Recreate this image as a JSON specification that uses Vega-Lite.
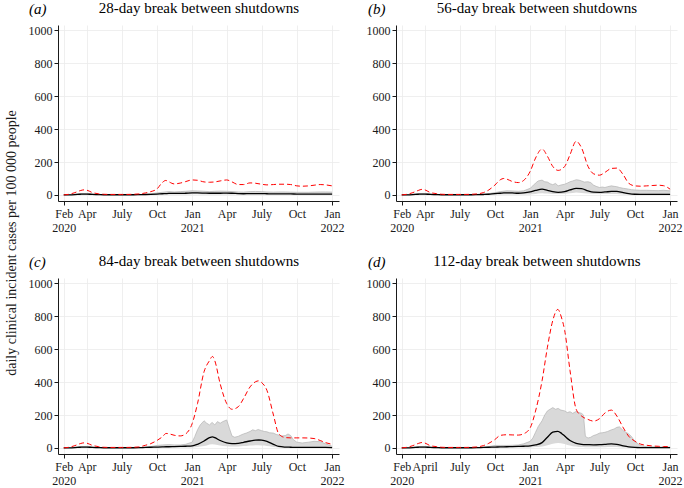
{
"$schema": "https://vega.github.io/schema/vega-lite/v6.json",
"background": "white",
"padding": {"left": 4, "top": 0, "right": 0, "bottom": 0},
"config": {
  "font": "Liberation Serif",
  "view": {"stroke": null},
  "axis": {"labelFont": "Liberation Serif", "labelFontSize": 12, "labelColor": "#1a1a1a", "domainColor": "#1a1a1a", "tickColor": "#1a1a1a", "gridColor": "#ebebeb", "gridWidth": 0.8, "domainWidth": 1, "tickWidth": 1, "tickSize": 4, "titleFont": "Liberation Serif", "titleFontSize": 15, "titleFontWeight": "normal", "titleColor": "#000000"}
},
"title": {"text": "daily clinical incident cases per 100 000 people", "orient": "left", "anchor": "middle", "font": "Liberation Serif", "fontSize": 14, "fontWeight": "normal", "color": "#1a1a1a", "offset": 9},
"columns": 2,
"spacing": {"row": 20, "column": 21},
"datasets": {
"lines": [
{"panel":"a","date":"2020-02-01","upper":0,"median":0},{"panel":"a","date":"2020-02-15","upper":4,"median":0.5},{"panel":"a","date":"2020-03-01","upper":14,"median":2},{"panel":"a","date":"2020-03-15","upper":26,"median":4},{"panel":"a","date":"2020-03-25","upper":31,"median":5},{"panel":"a","date":"2020-04-01","upper":29,"median":5},{"panel":"a","date":"2020-04-15","upper":15,"median":3},{"panel":"a","date":"2020-05-01","upper":7,"median":2},{"panel":"a","date":"2020-05-15","upper":4,"median":1},{"panel":"a","date":"2020-06-01","upper":3,"median":1},{"panel":"a","date":"2020-06-15","upper":3,"median":1},{"panel":"a","date":"2020-07-01","upper":3,"median":1},{"panel":"a","date":"2020-07-15","upper":3,"median":1},{"panel":"a","date":"2020-08-01","upper":4,"median":1},{"panel":"a","date":"2020-08-15","upper":6,"median":1.5},
{"panel":"a","date":"2020-09-01","upper":12,"median":2.5},{"panel":"a","date":"2020-09-15","upper":20,"median":3.5},{"panel":"a","date":"2020-10-01","upper":36,"median":5},{"panel":"a","date":"2020-10-15","upper":75,"median":7},{"panel":"a","date":"2020-10-24","upper":88,"median":8},{"panel":"a","date":"2020-11-01","upper":80,"median":9},{"panel":"a","date":"2020-11-15","upper":67,"median":9},{"panel":"a","date":"2020-12-01","upper":72,"median":9},{"panel":"a","date":"2020-12-15","upper":81,"median":10},{"panel":"a","date":"2021-01-01","upper":91,"median":12},{"panel":"a","date":"2021-01-15","upper":89,"median":12},{"panel":"a","date":"2021-02-01","upper":79,"median":11},{"panel":"a","date":"2021-02-15","upper":77,"median":10},{"panel":"a","date":"2021-03-01","upper":79,"median":10},{"panel":"a","date":"2021-03-15","upper":85,"median":10},{"panel":"a","date":"2021-04-01","upper":91,"median":11},{"panel":"a","date":"2021-04-15","upper":79,"median":10},{"panel":"a","date":"2021-05-01","upper":63,"median":8},{"panel":"a","date":"2021-05-15","upper":63,"median":7},{"panel":"a","date":"2021-06-01","upper":73,"median":8},{"panel":"a","date":"2021-06-15","upper":71,"median":8},{"panel":"a","date":"2021-07-01","upper":65,"median":8},{"panel":"a","date":"2021-07-15","upper":61,"median":7},{"panel":"a","date":"2021-08-01","upper":63,"median":6},{"panel":"a","date":"2021-08-15","upper":65,"median":6},{"panel":"a","date":"2021-09-01","upper":65,"median":6},{"panel":"a","date":"2021-09-15","upper":63,"median":6},{"panel":"a","date":"2021-10-01","upper":55,"median":5},{"panel":"a","date":"2021-10-15","upper":53,"median":5},{"panel":"a","date":"2021-11-01","upper":55,"median":5},{"panel":"a","date":"2021-11-15","upper":59,"median":5},{"panel":"a","date":"2021-12-01","upper":63,"median":5},{"panel":"a","date":"2021-12-15","upper":61,"median":5},{"panel":"a","date":"2022-01-01","upper":55,"median":5},

{"panel":"b","date":"2020-02-01","upper":0,"median":0},{"panel":"b","date":"2020-02-15","upper":4,"median":0.5},{"panel":"b","date":"2020-03-01","upper":14,"median":2},{"panel":"b","date":"2020-03-15","upper":27,"median":4},{"panel":"b","date":"2020-03-25","upper":34,"median":5},{"panel":"b","date":"2020-04-01","upper":31,"median":5},{"panel":"b","date":"2020-04-15","upper":15,"median":3},{"panel":"b","date":"2020-05-01","upper":8,"median":2},{"panel":"b","date":"2020-05-15","upper":4,"median":1},{"panel":"b","date":"2020-06-01","upper":3,"median":1},{"panel":"b","date":"2020-06-15","upper":3,"median":1},{"panel":"b","date":"2020-07-01","upper":3,"median":1},{"panel":"b","date":"2020-07-15","upper":3,"median":1},{"panel":"b","date":"2020-08-01","upper":4,"median":1},{"panel":"b","date":"2020-08-15","upper":6,"median":1.5},
{"panel":"b","date":"2020-09-01","upper":14,"median":2.5},{"panel":"b","date":"2020-09-15","upper":30,"median":4},{"panel":"b","date":"2020-10-01","upper":60,"median":8},{"panel":"b","date":"2020-10-15","upper":92,"median":10},{"panel":"b","date":"2020-10-24","upper":100,"median":12},{"panel":"b","date":"2020-11-01","upper":96,"median":13},{"panel":"b","date":"2020-11-15","upper":82,"median":12},{"panel":"b","date":"2020-12-01","upper":75,"median":10},{"panel":"b","date":"2020-12-15","upper":88,"median":12},{"panel":"b","date":"2021-01-01","upper":143,"median":18},{"panel":"b","date":"2021-01-15","upper":224,"median":27},{"panel":"b","date":"2021-02-01","upper":279,"median":35},{"panel":"b","date":"2021-02-15","upper":235,"median":28},{"panel":"b","date":"2021-03-01","upper":173,"median":20},{"panel":"b","date":"2021-03-15","upper":149,"median":16},{"panel":"b","date":"2021-04-01","upper":173,"median":20},{"panel":"b","date":"2021-04-15","upper":245,"median":30},{"panel":"b","date":"2021-05-01","upper":326,"median":40},{"panel":"b","date":"2021-05-15","upper":286,"median":38},{"panel":"b","date":"2021-06-01","upper":173,"median":24},{"panel":"b","date":"2021-06-15","upper":129,"median":17},{"panel":"b","date":"2021-07-01","upper":120,"median":16},{"panel":"b","date":"2021-07-15","upper":137,"median":18},{"panel":"b","date":"2021-08-01","upper":161,"median":21},{"panel":"b","date":"2021-08-15","upper":163,"median":22},{"panel":"b","date":"2021-09-01","upper":122,"median":14},{"panel":"b","date":"2021-09-15","upper":71,"median":8},{"panel":"b","date":"2021-10-01","upper":55,"median":4},{"panel":"b","date":"2021-10-15","upper":53,"median":3},{"panel":"b","date":"2021-11-01","upper":55,"median":3},{"panel":"b","date":"2021-11-15","upper":57,"median":3},{"panel":"b","date":"2021-12-01","upper":59,"median":3},{"panel":"b","date":"2021-12-15","upper":56,"median":3},{"panel":"b","date":"2022-01-01","upper":35,"median":3},

{"panel":"c","date":"2020-02-01","upper":0,"median":0},{"panel":"c","date":"2020-02-15","upper":4,"median":0.5},{"panel":"c","date":"2020-03-01","upper":14,"median":2},{"panel":"c","date":"2020-03-15","upper":26,"median":4},{"panel":"c","date":"2020-03-25","upper":31,"median":5},{"panel":"c","date":"2020-04-01","upper":29,"median":5},{"panel":"c","date":"2020-04-15","upper":16,"median":3},{"panel":"c","date":"2020-05-01","upper":8,"median":2},{"panel":"c","date":"2020-05-15","upper":4,"median":1},{"panel":"c","date":"2020-06-01","upper":3,"median":1},{"panel":"c","date":"2020-06-15","upper":3,"median":1},{"panel":"c","date":"2020-07-01","upper":3,"median":1},{"panel":"c","date":"2020-07-15","upper":3,"median":1},{"panel":"c","date":"2020-08-01","upper":4,"median":1},{"panel":"c","date":"2020-08-15","upper":6,"median":1.5},
{"panel":"c","date":"2020-09-01","upper":16,"median":3},{"panel":"c","date":"2020-09-15","upper":26,"median":4},{"panel":"c","date":"2020-10-01","upper":45,"median":5},{"panel":"c","date":"2020-10-15","upper":67,"median":6},{"panel":"c","date":"2020-10-25","upper":88,"median":7},{"panel":"c","date":"2020-11-01","upper":86,"median":7},{"panel":"c","date":"2020-11-15","upper":77,"median":8},{"panel":"c","date":"2020-12-01","upper":73,"median":9},{"panel":"c","date":"2020-12-15","upper":85,"median":10},{"panel":"c","date":"2021-01-01","upper":148,"median":12},{"panel":"c","date":"2021-01-15","upper":270,"median":22},{"panel":"c","date":"2021-02-01","upper":463,"median":42},{"panel":"c","date":"2021-02-15","upper":530,"median":62},{"panel":"c","date":"2021-02-23","upper":556,"median":67},{"panel":"c","date":"2021-03-01","upper":530,"median":62},{"panel":"c","date":"2021-03-15","upper":390,"median":45},{"panel":"c","date":"2021-04-01","upper":270,"median":30},{"panel":"c","date":"2021-04-15","upper":235,"median":26},{"panel":"c","date":"2021-05-01","upper":250,"median":28},{"panel":"c","date":"2021-05-15","upper":300,"median":34},{"panel":"c","date":"2021-06-01","upper":371,"median":42},{"panel":"c","date":"2021-06-15","upper":402,"median":47},{"panel":"c","date":"2021-06-24","upper":408,"median":48},{"panel":"c","date":"2021-07-01","upper":398,"median":47},{"panel":"c","date":"2021-07-15","upper":350,"median":40},{"panel":"c","date":"2021-08-01","upper":200,"median":22},{"panel":"c","date":"2021-08-15","upper":85,"median":9},{"panel":"c","date":"2021-09-01","upper":63,"median":5},{"panel":"c","date":"2021-09-15","upper":61,"median":4},{"panel":"c","date":"2021-10-01","upper":61,"median":3},{"panel":"c","date":"2021-10-15","upper":61,"median":3},{"panel":"c","date":"2021-11-01","upper":60,"median":3},{"panel":"c","date":"2021-11-15","upper":57,"median":3},{"panel":"c","date":"2021-12-01","upper":45,"median":3},{"panel":"c","date":"2021-12-15","upper":32,"median":3},{"panel":"c","date":"2022-01-01","upper":22,"median":2},

{"panel":"d","date":"2020-02-01","upper":0,"median":0},{"panel":"d","date":"2020-02-15","upper":4,"median":0.5},{"panel":"d","date":"2020-03-01","upper":14,"median":2},{"panel":"d","date":"2020-03-15","upper":27,"median":4},{"panel":"d","date":"2020-03-25","upper":33,"median":5},{"panel":"d","date":"2020-04-01","upper":30,"median":5},{"panel":"d","date":"2020-04-15","upper":14,"median":3},{"panel":"d","date":"2020-05-01","upper":8,"median":2},{"panel":"d","date":"2020-05-15","upper":4,"median":1},{"panel":"d","date":"2020-06-01","upper":3,"median":1},{"panel":"d","date":"2020-06-15","upper":3,"median":1},{"panel":"d","date":"2020-07-01","upper":3,"median":1},{"panel":"d","date":"2020-07-15","upper":3,"median":1},{"panel":"d","date":"2020-08-01","upper":4,"median":1},{"panel":"d","date":"2020-08-15","upper":6,"median":1.5},
{"panel":"d","date":"2020-09-01","upper":14,"median":3},{"panel":"d","date":"2020-09-15","upper":28,"median":4},{"panel":"d","date":"2020-10-01","upper":51,"median":5},{"panel":"d","date":"2020-10-15","upper":76,"median":6},{"panel":"d","date":"2020-11-01","upper":80,"median":7},{"panel":"d","date":"2020-11-15","upper":79,"median":8},{"panel":"d","date":"2020-12-01","upper":78,"median":9},{"panel":"d","date":"2020-12-15","upper":86,"median":10},{"panel":"d","date":"2021-01-01","upper":122,"median":12},{"panel":"d","date":"2021-01-15","upper":224,"median":18},{"panel":"d","date":"2021-02-01","upper":408,"median":32},{"panel":"d","date":"2021-02-15","upper":612,"median":65},{"panel":"d","date":"2021-03-01","upper":775,"median":96},{"panel":"d","date":"2021-03-14","upper":842,"median":101},{"panel":"d","date":"2021-03-24","upper":790,"median":88},{"panel":"d","date":"2021-04-01","upper":714,"median":72},{"panel":"d","date":"2021-04-15","upper":469,"median":45},{"panel":"d","date":"2021-05-01","upper":235,"median":28},{"panel":"d","date":"2021-05-15","upper":194,"median":22},{"panel":"d","date":"2021-06-01","upper":173,"median":20},{"panel":"d","date":"2021-06-15","upper":163,"median":19},{"panel":"d","date":"2021-07-01","upper":178,"median":20},{"panel":"d","date":"2021-07-15","upper":212,"median":22},{"panel":"d","date":"2021-08-01","upper":230,"median":25},{"panel":"d","date":"2021-08-15","upper":194,"median":22},{"panel":"d","date":"2021-09-01","upper":122,"median":12},{"panel":"d","date":"2021-09-15","upper":71,"median":6},{"panel":"d","date":"2021-10-01","upper":41,"median":3},{"panel":"d","date":"2021-10-15","upper":24,"median":2},{"panel":"d","date":"2021-11-01","upper":16,"median":2},{"panel":"d","date":"2021-11-15","upper":12,"median":2},{"panel":"d","date":"2021-12-01","upper":10,"median":2},{"panel":"d","date":"2021-12-15","upper":8,"median":2},{"panel":"d","date":"2022-01-01","upper":8,"median":2}
],
"band": [
{"panel":"a","date":"2020-02-01","lo":0,"hi":0},{"panel":"a","date":"2020-02-15","lo":0,"hi":2},{"panel":"a","date":"2020-03-01","lo":0,"hi":5},{"panel":"a","date":"2020-03-15","lo":0.5,"hi":8},{"panel":"a","date":"2020-04-01","lo":0.5,"hi":9},{"panel":"a","date":"2020-04-15","lo":0.3,"hi":6},{"panel":"a","date":"2020-05-01","lo":0,"hi":3},{"panel":"a","date":"2020-05-15","lo":0,"hi":2},{"panel":"a","date":"2020-06-01","lo":0,"hi":1.5},{"panel":"a","date":"2020-06-15","lo":0,"hi":1.5},{"panel":"a","date":"2020-07-01","lo":0,"hi":1.5},{"panel":"a","date":"2020-07-15","lo":0,"hi":1.5},{"panel":"a","date":"2020-08-01","lo":0,"hi":1.5},{"panel":"a","date":"2020-08-15","lo":0,"hi":2},{"panel":"a","date":"2020-09-01","lo":0.5,"hi":4},{"panel":"a","date":"2020-09-15","lo":1,"hi":7},
{"panel":"a","date":"2020-10-01","lo":2,"hi":12},{"panel":"a","date":"2020-10-15","lo":2,"hi":16},{"panel":"a","date":"2020-11-01","lo":3,"hi":20},{"panel":"a","date":"2020-11-15","lo":3,"hi":18},{"panel":"a","date":"2020-12-01","lo":3,"hi":20},{"panel":"a","date":"2020-12-15","lo":3,"hi":22},{"panel":"a","date":"2021-01-01","lo":4,"hi":25},{"panel":"a","date":"2021-01-15","lo":4,"hi":24},{"panel":"a","date":"2021-02-01","lo":3,"hi":22},{"panel":"a","date":"2021-02-15","lo":3,"hi":20},{"panel":"a","date":"2021-03-01","lo":3,"hi":22},{"panel":"a","date":"2021-03-15","lo":3,"hi":23},{"panel":"a","date":"2021-04-01","lo":3,"hi":22},{"panel":"a","date":"2021-04-15","lo":3,"hi":20},{"panel":"a","date":"2021-05-01","lo":2,"hi":18},{"panel":"a","date":"2021-05-15","lo":2,"hi":17},{"panel":"a","date":"2021-06-01","lo":2,"hi":20},{"panel":"a","date":"2021-06-15","lo":2,"hi":21},{"panel":"a","date":"2021-07-01","lo":2,"hi":20},{"panel":"a","date":"2021-07-15","lo":2,"hi":18},{"panel":"a","date":"2021-08-01","lo":2,"hi":17},{"panel":"a","date":"2021-08-15","lo":2,"hi":18},{"panel":"a","date":"2021-09-01","lo":2,"hi":18},{"panel":"a","date":"2021-09-15","lo":2,"hi":17},{"panel":"a","date":"2021-10-01","lo":2,"hi":16},{"panel":"a","date":"2021-10-15","lo":2,"hi":16},{"panel":"a","date":"2021-11-01","lo":2,"hi":16},{"panel":"a","date":"2021-11-15","lo":2,"hi":17},{"panel":"a","date":"2021-12-01","lo":2,"hi":18},{"panel":"a","date":"2021-12-15","lo":2,"hi":18},{"panel":"a","date":"2022-01-01","lo":2,"hi":17},

{"panel":"b","date":"2020-02-01","lo":0,"hi":0},{"panel":"b","date":"2020-02-15","lo":0,"hi":2},{"panel":"b","date":"2020-03-01","lo":0,"hi":5},{"panel":"b","date":"2020-03-15","lo":0.5,"hi":8},{"panel":"b","date":"2020-04-01","lo":0.5,"hi":9},{"panel":"b","date":"2020-04-15","lo":0.3,"hi":6},{"panel":"b","date":"2020-05-01","lo":0,"hi":3},{"panel":"b","date":"2020-05-15","lo":0,"hi":2},{"panel":"b","date":"2020-06-01","lo":0,"hi":1.5},{"panel":"b","date":"2020-06-15","lo":0,"hi":1.5},{"panel":"b","date":"2020-07-01","lo":0,"hi":1.5},{"panel":"b","date":"2020-07-15","lo":0,"hi":1.5},{"panel":"b","date":"2020-08-01","lo":0,"hi":1.5},{"panel":"b","date":"2020-08-15","lo":0,"hi":2},{"panel":"b","date":"2020-09-01","lo":0.5,"hi":4},{"panel":"b","date":"2020-09-15","lo":1,"hi":8},
{"panel":"b","date":"2020-10-01","lo":1,"hi":14},{"panel":"b","date":"2020-10-15","lo":2,"hi":20},{"panel":"b","date":"2020-11-01","lo":2,"hi":25},{"panel":"b","date":"2020-11-15","lo":2,"hi":24},{"panel":"b","date":"2020-12-01","lo":2,"hi":22},{"panel":"b","date":"2020-12-15","lo":2,"hi":25},{"panel":"b","date":"2021-01-01","lo":3,"hi":40},{"panel":"b","date":"2021-01-08","lo":4,"hi":55},{"panel":"b","date":"2021-01-15","lo":6,"hi":72},{"panel":"b","date":"2021-01-22","lo":8,"hi":85},{"panel":"b","date":"2021-02-01","lo":10,"hi":90},{"panel":"b","date":"2021-02-08","lo":9,"hi":80},{"panel":"b","date":"2021-02-15","lo":8,"hi":78},{"panel":"b","date":"2021-02-22","lo":7,"hi":68},{"panel":"b","date":"2021-03-01","lo":6,"hi":62},{"panel":"b","date":"2021-03-08","lo":6,"hi":70},{"panel":"b","date":"2021-03-15","lo":5,"hi":55},{"panel":"b","date":"2021-03-22","lo":6,"hi":60},{"panel":"b","date":"2021-04-01","lo":7,"hi":65},{"panel":"b","date":"2021-04-08","lo":8,"hi":72},{"panel":"b","date":"2021-04-15","lo":10,"hi":80},{"panel":"b","date":"2021-04-22","lo":12,"hi":85},{"panel":"b","date":"2021-05-01","lo":14,"hi":92},{"panel":"b","date":"2021-05-08","lo":13,"hi":90},{"panel":"b","date":"2021-05-15","lo":12,"hi":85},{"panel":"b","date":"2021-05-22","lo":10,"hi":78},{"panel":"b","date":"2021-06-01","lo":8,"hi":80},{"panel":"b","date":"2021-06-08","lo":7,"hi":75},{"panel":"b","date":"2021-06-15","lo":6,"hi":60},{"panel":"b","date":"2021-06-22","lo":5,"hi":52},{"panel":"b","date":"2021-07-01","lo":5,"hi":45},{"panel":"b","date":"2021-07-08","lo":5,"hi":48},{"panel":"b","date":"2021-07-15","lo":5,"hi":45},{"panel":"b","date":"2021-07-22","lo":6,"hi":50},{"panel":"b","date":"2021-08-01","lo":6,"hi":55},{"panel":"b","date":"2021-08-08","lo":6,"hi":52},{"panel":"b","date":"2021-08-15","lo":5,"hi":50},{"panel":"b","date":"2021-08-22","lo":4,"hi":45},{"panel":"b","date":"2021-09-01","lo":3,"hi":40},{"panel":"b","date":"2021-09-08","lo":2,"hi":38},{"panel":"b","date":"2021-09-15","lo":2,"hi":35},{"panel":"b","date":"2021-09-22","lo":2,"hi":32},{"panel":"b","date":"2021-10-01","lo":1,"hi":30},{"panel":"b","date":"2021-10-15","lo":1,"hi":28},{"panel":"b","date":"2021-11-01","lo":1,"hi":28},{"panel":"b","date":"2021-11-15","lo":1,"hi":27},{"panel":"b","date":"2021-12-01","lo":1,"hi":26},{"panel":"b","date":"2021-12-15","lo":1,"hi":28},{"panel":"b","date":"2022-01-01","lo":1,"hi":25},

{"panel":"c","date":"2020-02-01","lo":0,"hi":0},{"panel":"c","date":"2020-02-15","lo":0,"hi":2},{"panel":"c","date":"2020-03-01","lo":0,"hi":5},{"panel":"c","date":"2020-03-15","lo":0.5,"hi":8},{"panel":"c","date":"2020-04-01","lo":0.5,"hi":9},{"panel":"c","date":"2020-04-15","lo":0.3,"hi":6},{"panel":"c","date":"2020-05-01","lo":0,"hi":3},{"panel":"c","date":"2020-05-15","lo":0,"hi":2},{"panel":"c","date":"2020-06-01","lo":0,"hi":1.5},{"panel":"c","date":"2020-06-15","lo":0,"hi":1.5},{"panel":"c","date":"2020-07-01","lo":0,"hi":1.5},{"panel":"c","date":"2020-07-15","lo":0,"hi":1.5},{"panel":"c","date":"2020-08-01","lo":0,"hi":1.5},{"panel":"c","date":"2020-08-15","lo":0,"hi":2},{"panel":"c","date":"2020-09-01","lo":0.5,"hi":4},{"panel":"c","date":"2020-09-15","lo":1,"hi":8},
{"panel":"c","date":"2020-10-01","lo":1,"hi":15},{"panel":"c","date":"2020-10-15","lo":2,"hi":18},{"panel":"c","date":"2020-11-01","lo":2,"hi":20},{"panel":"c","date":"2020-11-15","lo":2,"hi":18},{"panel":"c","date":"2020-12-01","lo":2,"hi":18},{"panel":"c","date":"2020-12-15","lo":2,"hi":22},{"panel":"c","date":"2021-01-01","lo":3,"hi":35},{"panel":"c","date":"2021-01-08","lo":4,"hi":70},{"panel":"c","date":"2021-01-15","lo":6,"hi":110},{"panel":"c","date":"2021-01-22","lo":8,"hi":140},{"panel":"c","date":"2021-02-01","lo":12,"hi":165},{"panel":"c","date":"2021-02-08","lo":15,"hi":150},{"panel":"c","date":"2021-02-15","lo":20,"hi":140},{"panel":"c","date":"2021-02-22","lo":22,"hi":155},{"panel":"c","date":"2021-03-01","lo":20,"hi":140},{"panel":"c","date":"2021-03-08","lo":18,"hi":160},{"panel":"c","date":"2021-03-15","lo":14,"hi":150},{"panel":"c","date":"2021-03-22","lo":12,"hi":160},{"panel":"c","date":"2021-04-01","lo":10,"hi":170},{"panel":"c","date":"2021-04-08","lo":8,"hi":120},{"panel":"c","date":"2021-04-15","lo":8,"hi":72},{"panel":"c","date":"2021-04-22","lo":8,"hi":65},{"panel":"c","date":"2021-05-01","lo":9,"hi":70},{"panel":"c","date":"2021-05-08","lo":10,"hi":78},{"panel":"c","date":"2021-05-15","lo":11,"hi":85},{"panel":"c","date":"2021-05-22","lo":12,"hi":90},{"panel":"c","date":"2021-06-01","lo":14,"hi":100},{"panel":"c","date":"2021-06-08","lo":15,"hi":110},{"panel":"c","date":"2021-06-15","lo":16,"hi":105},{"panel":"c","date":"2021-06-22","lo":16,"hi":112},{"panel":"c","date":"2021-07-01","lo":15,"hi":105},{"panel":"c","date":"2021-07-08","lo":14,"hi":100},{"panel":"c","date":"2021-07-15","lo":12,"hi":98},{"panel":"c","date":"2021-07-22","lo":10,"hi":92},{"panel":"c","date":"2021-08-01","lo":6,"hi":90},{"panel":"c","date":"2021-08-08","lo":4,"hi":82},{"panel":"c","date":"2021-08-15","lo":3,"hi":78},{"panel":"c","date":"2021-08-22","lo":2,"hi":72},{"panel":"c","date":"2021-09-01","lo":2,"hi":75},{"panel":"c","date":"2021-09-08","lo":2,"hi":85},{"panel":"c","date":"2021-09-15","lo":1,"hi":75},{"panel":"c","date":"2021-09-22","lo":1,"hi":50},{"panel":"c","date":"2021-10-01","lo":1,"hi":35},{"panel":"c","date":"2021-10-15","lo":1,"hi":30},{"panel":"c","date":"2021-11-01","lo":1,"hi":35},{"panel":"c","date":"2021-11-15","lo":1,"hi":40},{"panel":"c","date":"2021-12-01","lo":1,"hi":38},{"panel":"c","date":"2021-12-15","lo":1,"hi":25},{"panel":"c","date":"2022-01-01","lo":1,"hi":10},

{"panel":"d","date":"2020-02-01","lo":0,"hi":0},{"panel":"d","date":"2020-02-15","lo":0,"hi":2},{"panel":"d","date":"2020-03-01","lo":0,"hi":5},{"panel":"d","date":"2020-03-15","lo":0.5,"hi":8},{"panel":"d","date":"2020-04-01","lo":0.5,"hi":9},{"panel":"d","date":"2020-04-15","lo":0.3,"hi":6},{"panel":"d","date":"2020-05-01","lo":0,"hi":3},{"panel":"d","date":"2020-05-15","lo":0,"hi":2},{"panel":"d","date":"2020-06-01","lo":0,"hi":1.5},{"panel":"d","date":"2020-06-15","lo":0,"hi":1.5},{"panel":"d","date":"2020-07-01","lo":0,"hi":1.5},{"panel":"d","date":"2020-07-15","lo":0,"hi":1.5},{"panel":"d","date":"2020-08-01","lo":0,"hi":1.5},{"panel":"d","date":"2020-08-15","lo":0,"hi":2},{"panel":"d","date":"2020-09-01","lo":0.5,"hi":4},{"panel":"d","date":"2020-09-15","lo":1,"hi":8},
{"panel":"d","date":"2020-10-01","lo":1,"hi":15},{"panel":"d","date":"2020-10-15","lo":2,"hi":15},{"panel":"d","date":"2020-11-01","lo":2,"hi":15},{"panel":"d","date":"2020-11-15","lo":2,"hi":16},{"panel":"d","date":"2020-12-01","lo":2,"hi":18},{"panel":"d","date":"2020-12-15","lo":2,"hi":25},{"panel":"d","date":"2021-01-01","lo":3,"hi":40},{"panel":"d","date":"2021-01-08","lo":4,"hi":60},{"panel":"d","date":"2021-01-15","lo":5,"hi":95},{"panel":"d","date":"2021-01-22","lo":6,"hi":130},{"panel":"d","date":"2021-02-01","lo":8,"hi":165},{"panel":"d","date":"2021-02-08","lo":12,"hi":200},{"panel":"d","date":"2021-02-15","lo":16,"hi":225},{"panel":"d","date":"2021-02-22","lo":20,"hi":235},{"panel":"d","date":"2021-03-01","lo":25,"hi":245},{"panel":"d","date":"2021-03-08","lo":29,"hi":235},{"panel":"d","date":"2021-03-15","lo":30,"hi":240},{"panel":"d","date":"2021-03-22","lo":28,"hi":230},{"panel":"d","date":"2021-04-01","lo":24,"hi":225},{"panel":"d","date":"2021-04-08","lo":18,"hi":215},{"panel":"d","date":"2021-04-15","lo":14,"hi":220},{"panel":"d","date":"2021-04-22","lo":10,"hi":210},{"panel":"d","date":"2021-05-01","lo":8,"hi":222},{"panel":"d","date":"2021-05-08","lo":6,"hi":215},{"panel":"d","date":"2021-05-15","lo":5,"hi":210},{"panel":"d","date":"2021-05-20","lo":5,"hi":200},{"panel":"d","date":"2021-05-25","lo":4,"hi":70},{"panel":"d","date":"2021-06-01","lo":4,"hi":60},{"panel":"d","date":"2021-06-08","lo":4,"hi":65},{"panel":"d","date":"2021-06-15","lo":4,"hi":75},{"panel":"d","date":"2021-06-22","lo":4,"hi":80},{"panel":"d","date":"2021-07-01","lo":4,"hi":90},{"panel":"d","date":"2021-07-08","lo":4,"hi":92},{"panel":"d","date":"2021-07-15","lo":4,"hi":95},{"panel":"d","date":"2021-07-22","lo":5,"hi":100},{"panel":"d","date":"2021-08-01","lo":5,"hi":110},{"panel":"d","date":"2021-08-08","lo":5,"hi":115},{"panel":"d","date":"2021-08-15","lo":5,"hi":125},{"panel":"d","date":"2021-08-22","lo":4,"hi":128},{"panel":"d","date":"2021-09-01","lo":3,"hi":105},{"panel":"d","date":"2021-09-08","lo":2,"hi":95},{"panel":"d","date":"2021-09-15","lo":2,"hi":85},{"panel":"d","date":"2021-09-22","lo":1,"hi":70},{"panel":"d","date":"2021-10-01","lo":1,"hi":40},{"panel":"d","date":"2021-10-15","lo":1,"hi":15},{"panel":"d","date":"2021-11-01","lo":1,"hi":8},{"panel":"d","date":"2021-11-15","lo":1,"hi":7},{"panel":"d","date":"2021-12-01","lo":1,"hi":6},{"panel":"d","date":"2021-12-15","lo":1,"hi":6},{"panel":"d","date":"2022-01-01","lo":1,"hi":5}
]
},
"concat": [
{"width": 281, "height": 176,
 "title": {"text": "(a)", "anchor": "start", "frame": "bounds", "font": "Liberation Serif", "fontStyle": "italic", "fontSize": 15, "fontWeight": "normal", "color": "#000", "offset": 0, "dx": 1, "dy": 17},
 "layer": [
 {"data": {"name": "band"}, "transform": [{"filter": "datum.panel == 'a'"}],
  "mark": {"type": "area", "color": "#d9d9d9", "opacity": 1, "line": {"color": "#b3b3b3", "strokeWidth": 0.7}},
  "encoding": {
   "x": {"field": "date", "type": "temporal", "scale": {"type": "utc", "domain": [{"year":2020,"month":1,"date":17,"utc":true},{"year":2022,"month":1,"date":19,"utc":true}]},
     "axis": {"values": [{"year":2020,"month":2,"date":1,"utc":true},{"year":2020,"month":4,"date":1,"utc":true},{"year":2020,"month":7,"date":1,"utc":true},{"year":2020,"month":10,"date":1,"utc":true},{"year":2021,"month":1,"date":1,"utc":true},{"year":2021,"month":4,"date":1,"utc":true},{"year":2021,"month":7,"date":1,"utc":true},{"year":2021,"month":10,"date":1,"utc":true},{"year":2022,"month":1,"date":1,"utc":true}], "tickCount": 20,
       "labelExpr": "utcmonth(datum.value) == 0 || (utcmonth(datum.value) == 1 && utcyear(datum.value) == 2020) ? [utcFormat(datum.value, '%b'), utcFormat(datum.value, '%Y')] : (utcmonth(datum.value) == 6 ? 'July' : utcFormat(datum.value, '%b'))",
       "grid": true, "labelOverlap": false, "labelFlush": false, "labelBaseline": "top", "labelLineHeight": 14, "labelPadding": 3,
       "title": "28-day break between shutdowns", "titleX": 140.5, "titleY": -194, "titleAlign": "center", "titleBaseline": "middle", "titleAngle": 0, "titleFontSize": 15, "titleFontWeight": "normal", "titleColor": "#000"}},
   "y": {"field": "hi", "type": "quantitative", "scale": {"domain": [-37, 1033], "nice": false, "zero": false},
     "axis": {"values": [0,200,400,600,800,1000], "format": "d", "tickCount": 20, "labelOverlap": false, "grid": true, "labelPadding": 2, "title": null}},
   "y2": {"field": "lo"}}},
 {"data": {"name": "lines"}, "transform": [{"filter": "datum.panel == 'a'"}],
  "mark": {"type": "line", "color": "#000000", "strokeWidth": 1.3, "interpolate": "monotone"},
  "encoding": {"x": {"field": "date", "type": "temporal"}, "y": {"field": "median", "type": "quantitative"}}},
 {"data": {"name": "lines"}, "transform": [{"filter": "datum.panel == 'a'"}],
  "mark": {"type": "line", "color": "#ff0000", "strokeWidth": 1, "strokeDash": [5, 3], "interpolate": "monotone"},
  "encoding": {"x": {"field": "date", "type": "temporal"}, "y": {"field": "upper", "type": "quantitative"}}}
]},
{"width": 281, "height": 176,
 "title": {"text": "(b)", "anchor": "start", "frame": "bounds", "font": "Liberation Serif", "fontStyle": "italic", "fontSize": 15, "fontWeight": "normal", "color": "#000", "offset": 0, "dx": 2, "dy": 17},
 "layer": [
 {"data": {"name": "band"}, "transform": [{"filter": "datum.panel == 'b'"}],
  "mark": {"type": "area", "color": "#d9d9d9", "opacity": 1, "line": {"color": "#b3b3b3", "strokeWidth": 0.7}},
  "encoding": {
   "x": {"field": "date", "type": "temporal", "scale": {"type": "utc", "domain": [{"year":2020,"month":1,"date":17,"utc":true},{"year":2022,"month":1,"date":19,"utc":true}]},
     "axis": {"values": [{"year":2020,"month":2,"date":1,"utc":true},{"year":2020,"month":4,"date":1,"utc":true},{"year":2020,"month":7,"date":1,"utc":true},{"year":2020,"month":10,"date":1,"utc":true},{"year":2021,"month":1,"date":1,"utc":true},{"year":2021,"month":4,"date":1,"utc":true},{"year":2021,"month":7,"date":1,"utc":true},{"year":2021,"month":10,"date":1,"utc":true},{"year":2022,"month":1,"date":1,"utc":true}], "tickCount": 20,
       "labelExpr": "utcmonth(datum.value) == 0 || (utcmonth(datum.value) == 1 && utcyear(datum.value) == 2020) ? [utcFormat(datum.value, '%b'), utcFormat(datum.value, '%Y')] : (utcmonth(datum.value) == 6 ? 'July' : utcFormat(datum.value, '%b'))",
       "grid": true, "labelOverlap": false, "labelFlush": false, "labelBaseline": "top", "labelLineHeight": 14, "labelPadding": 3,
       "title": "56-day break between shutdowns", "titleX": 140.5, "titleY": -194, "titleAlign": "center", "titleBaseline": "middle", "titleAngle": 0, "titleFontSize": 15, "titleFontWeight": "normal", "titleColor": "#000"}},
   "y": {"field": "hi", "type": "quantitative", "scale": {"domain": [-37, 1033], "nice": false, "zero": false},
     "axis": {"values": [0,200,400,600,800,1000], "format": "d", "tickCount": 20, "labelOverlap": false, "grid": true, "labelPadding": 2, "title": null}},
   "y2": {"field": "lo"}}},
 {"data": {"name": "lines"}, "transform": [{"filter": "datum.panel == 'b'"}],
  "mark": {"type": "line", "color": "#000000", "strokeWidth": 1.3, "interpolate": "monotone"},
  "encoding": {"x": {"field": "date", "type": "temporal"}, "y": {"field": "median", "type": "quantitative"}}},
 {"data": {"name": "lines"}, "transform": [{"filter": "datum.panel == 'b'"}],
  "mark": {"type": "line", "color": "#ff0000", "strokeWidth": 1, "strokeDash": [5, 3], "interpolate": "monotone"},
  "encoding": {"x": {"field": "date", "type": "temporal"}, "y": {"field": "upper", "type": "quantitative"}}}
]},
{"width": 281, "height": 176,
 "title": {"text": "(c)", "anchor": "start", "frame": "bounds", "font": "Liberation Serif", "fontStyle": "italic", "fontSize": 15, "fontWeight": "normal", "color": "#000", "offset": 0, "dx": 1, "dy": 17},
 "layer": [
 {"data": {"name": "band"}, "transform": [{"filter": "datum.panel == 'c'"}],
  "mark": {"type": "area", "color": "#d9d9d9", "opacity": 1, "line": {"color": "#b3b3b3", "strokeWidth": 0.7}},
  "encoding": {
   "x": {"field": "date", "type": "temporal", "scale": {"type": "utc", "domain": [{"year":2020,"month":1,"date":17,"utc":true},{"year":2022,"month":1,"date":19,"utc":true}]},
     "axis": {"values": [{"year":2020,"month":2,"date":1,"utc":true},{"year":2020,"month":4,"date":1,"utc":true},{"year":2020,"month":7,"date":1,"utc":true},{"year":2020,"month":10,"date":1,"utc":true},{"year":2021,"month":1,"date":1,"utc":true},{"year":2021,"month":4,"date":1,"utc":true},{"year":2021,"month":7,"date":1,"utc":true},{"year":2021,"month":10,"date":1,"utc":true},{"year":2022,"month":1,"date":1,"utc":true}], "tickCount": 20,
       "labelExpr": "utcmonth(datum.value) == 0 || (utcmonth(datum.value) == 1 && utcyear(datum.value) == 2020) ? [utcFormat(datum.value, '%b'), utcFormat(datum.value, '%Y')] : (utcmonth(datum.value) == 6 ? 'July' : utcFormat(datum.value, '%b'))",
       "grid": true, "labelOverlap": false, "labelFlush": false, "labelBaseline": "top", "labelLineHeight": 14, "labelPadding": 3,
       "title": "84-day break between shutdowns", "titleX": 140.5, "titleY": -194, "titleAlign": "center", "titleBaseline": "middle", "titleAngle": 0, "titleFontSize": 15, "titleFontWeight": "normal", "titleColor": "#000"}},
   "y": {"field": "hi", "type": "quantitative", "scale": {"domain": [-37, 1033], "nice": false, "zero": false},
     "axis": {"values": [0,200,400,600,800,1000], "format": "d", "tickCount": 20, "labelOverlap": false, "grid": true, "labelPadding": 2, "title": null}},
   "y2": {"field": "lo"}}},
 {"data": {"name": "lines"}, "transform": [{"filter": "datum.panel == 'c'"}],
  "mark": {"type": "line", "color": "#000000", "strokeWidth": 1.3, "interpolate": "monotone"},
  "encoding": {"x": {"field": "date", "type": "temporal"}, "y": {"field": "median", "type": "quantitative"}}},
 {"data": {"name": "lines"}, "transform": [{"filter": "datum.panel == 'c'"}],
  "mark": {"type": "line", "color": "#ff0000", "strokeWidth": 1, "strokeDash": [5, 3], "interpolate": "monotone"},
  "encoding": {"x": {"field": "date", "type": "temporal"}, "y": {"field": "upper", "type": "quantitative"}}}
]},
{"width": 281, "height": 176,
 "title": {"text": "(d)", "anchor": "start", "frame": "bounds", "font": "Liberation Serif", "fontStyle": "italic", "fontSize": 15, "fontWeight": "normal", "color": "#000", "offset": 0, "dx": 2, "dy": 17},
 "layer": [
 {"data": {"name": "band"}, "transform": [{"filter": "datum.panel == 'd'"}],
  "mark": {"type": "area", "color": "#d9d9d9", "opacity": 1, "line": {"color": "#b3b3b3", "strokeWidth": 0.7}},
  "encoding": {
   "x": {"field": "date", "type": "temporal", "scale": {"type": "utc", "domain": [{"year":2020,"month":1,"date":17,"utc":true},{"year":2022,"month":1,"date":19,"utc":true}]},
     "axis": {"values": [{"year":2020,"month":2,"date":1,"utc":true},{"year":2020,"month":4,"date":1,"utc":true},{"year":2020,"month":7,"date":1,"utc":true},{"year":2020,"month":10,"date":1,"utc":true},{"year":2021,"month":1,"date":1,"utc":true},{"year":2021,"month":4,"date":1,"utc":true},{"year":2021,"month":7,"date":1,"utc":true},{"year":2021,"month":10,"date":1,"utc":true},{"year":2022,"month":1,"date":1,"utc":true}], "tickCount": 20,
       "labelExpr": "utcmonth(datum.value) == 0 || (utcmonth(datum.value) == 1 && utcyear(datum.value) == 2020) ? [utcFormat(datum.value, '%b'), utcFormat(datum.value, '%Y')] : (utcmonth(datum.value) == 6 ? 'July' : ((utcmonth(datum.value) == 3 && utcyear(datum.value) == 2020) ? 'April' : utcFormat(datum.value, '%b')))",
       "grid": true, "labelOverlap": false, "labelFlush": false, "labelBaseline": "top", "labelLineHeight": 14, "labelPadding": 3,
       "title": "112-day break between shutdowns", "titleX": 140.5, "titleY": -194, "titleAlign": "center", "titleBaseline": "middle", "titleAngle": 0, "titleFontSize": 15, "titleFontWeight": "normal", "titleColor": "#000"}},
   "y": {"field": "hi", "type": "quantitative", "scale": {"domain": [-37, 1033], "nice": false, "zero": false},
     "axis": {"values": [0,200,400,600,800,1000], "format": "d", "tickCount": 20, "labelOverlap": false, "grid": true, "labelPadding": 2, "title": null}},
   "y2": {"field": "lo"}}},
 {"data": {"name": "lines"}, "transform": [{"filter": "datum.panel == 'd'"}],
  "mark": {"type": "line", "color": "#000000", "strokeWidth": 1.3, "interpolate": "monotone"},
  "encoding": {"x": {"field": "date", "type": "temporal"}, "y": {"field": "median", "type": "quantitative"}}},
 {"data": {"name": "lines"}, "transform": [{"filter": "datum.panel == 'd'"}],
  "mark": {"type": "line", "color": "#ff0000", "strokeWidth": 1, "strokeDash": [5, 3], "interpolate": "monotone"},
  "encoding": {"x": {"field": "date", "type": "temporal"}, "y": {"field": "upper", "type": "quantitative"}}}
]}
]
}
